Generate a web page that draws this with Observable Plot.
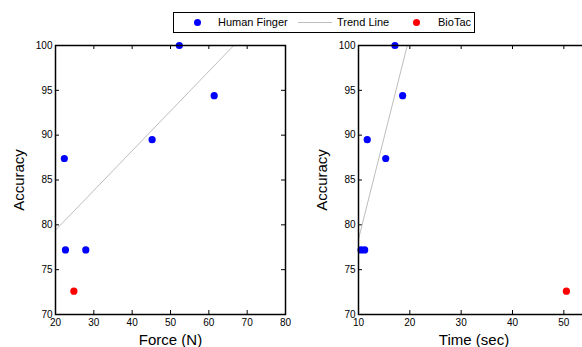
<!DOCTYPE html>
<html>
<head>
<meta charset="utf-8">
<script src="https://cdn.jsdelivr.net/npm/d3@7"></script>
<script src="https://cdn.jsdelivr.net/npm/@observablehq/plot@0.6"></script>
<style>
  html, body { margin: 0; padding: 0; background: white; }
  body { width: 582px; height: 347px; overflow: hidden; position: relative; font-family: "Liberation Sans", Arial, sans-serif; }
  .panel { position: absolute; top: 0; height: 347px; }
  .panel svg { max-width: none !important; display: block; }
  #legend { position: absolute; left: 173px; top: 12px; width: 302px; height: 21px; box-sizing: border-box; border: 1px solid black; background: white; font-size: 11px; color: black; }
  #legend .item { position: absolute; top: 0; height: 19px; line-height: 19px; white-space: nowrap; }
  #legend .dot { position: absolute; top: 6px; width: 7px; height: 7px; border-radius: 50%; }
  #legend .ln { position: absolute; top: 9px; height: 1px; background: #bdbdbd; }
</style>
</head>
<body>
<div id="left" class="panel" style="left:0px; width:290px"></div>
<div id="right" class="panel" style="left:300px; width:300px"></div>
<div id="legend">
  <span class="dot" style="left:20px; background:#0000ff"></span>
  <span class="item" style="left:44px">Human Finger</span>
  <span class="ln" style="left:124px; width:34px"></span>
  <span class="item" style="left:163px">Trend Line</span>
  <span class="dot" style="left:239px; background:#ff0000"></span>
  <span class="item" style="left:264px">BioTac</span>
</div>
<script>
// Human finger data
const fingerForce = [22.3, 22.6, 27.9, 45.2, 52.3, 61.4];
const fingerTime = [15.3, 10.5, 11.2, 11.7, 17.1, 18.6];
const fingerAccuracy = [87.4, 77.2, 77.2, 89.5, 100, 94.4];
// BioTac data
const biotacForce = [24.8];
const biotacTime = [50.5];
const biotacAccuracy = [72.6];
// Trend lines (endpoints)
const forceTrendX = [20, 66.5];
const forceTrendY = [79.4, 100];
const timeTrendX = [10, 19.5];
const timeTrendY = [78.4, 100];
// Ticks
const accuracyTicks = [70, 75, 80, 85, 90, 95, 100];
const forceTicks = [20, 30, 40, 50, 60, 70, 80];
const timeTicks = [10, 20, 30, 40, 50, 60];

const H = 347, MT = 45, MB = 33;
const innerH = H - MT - MB;
const font = "'Liberation Sans', Arial, Helvetica, sans-serif";

function panel({xs, ys, bx, by, tx, ty, xDomain, xTicks, xLabel, width, ml, mr}) {
  const innerW = width - ml - mr;
  const finger = xs.map((x, i) => ({x, y: ys[i]}));
  const bio = bx.map((x, i) => ({x, y: by[i]}));
  const trend = tx.map((x, i) => ({x, y: ty[i]}));
  return Plot.plot({
    width, height: H,
    marginLeft: ml, marginRight: mr, marginTop: MT, marginBottom: MB,
    style: {fontFamily: font, fontSize: "10px", background: "white", color: "black", overflow: "visible", maxWidth: "none"},
    x: {domain: xDomain},
    y: {domain: [70, 100]},
    marks: [
      Plot.axisX(xTicks, {tickSize: 0, tickPadding: 4, label: null, fontSize: 10}),
      Plot.axisY(accuracyTicks, {tickSize: 0, tickPadding: 3, label: null, fontSize: 10}),
      Plot.tickX(xTicks, {x: d => d, insetTop: innerH - 4, stroke: "black"}),
      Plot.tickX(xTicks, {x: d => d, insetBottom: innerH - 4, stroke: "black"}),
      Plot.tickY(accuracyTicks, {y: d => d, insetRight: innerW - 4, stroke: "black"}),
      Plot.tickY(accuracyTicks, {y: d => d, insetLeft: innerW - 4, stroke: "black"}),
      Plot.line(trend, {x: "x", y: "y", stroke: "#bdbdbd", strokeWidth: 1, clip: true}),
      Plot.dot(finger, {x: "x", y: "y", r: 3.6, fill: "#0000ff", stroke: "none"}),
      Plot.dot(bio, {x: "x", y: "y", r: 3.6, fill: "#ff0000", stroke: "none"}),
      Plot.frame({stroke: "black", strokeWidth: 1.5}),
      Plot.text(["Accuracy"], {text: d => d, frameAnchor: "left", rotate: -90, dx: -36, fontSize: 15, textAnchor: "middle", fill: "black"}),
      Plot.text([xLabel], {text: d => d, frameAnchor: "bottom", dy: 26, fontSize: 15, textAnchor: "middle", lineAnchor: "middle", fill: "black"})
    ]
  });
}

document.getElementById("left").append(panel({
  xs: fingerForce, ys: fingerAccuracy, bx: biotacForce, by: biotacAccuracy,
  tx: forceTrendX, ty: forceTrendY, xDomain: [20, 80], xTicks: forceTicks,
  xLabel: "Force (N)", width: 290, ml: 55, mr: 5
}));
document.getElementById("right").append(panel({
  xs: fingerTime, ys: fingerAccuracy, bx: biotacTime, by: biotacAccuracy,
  tx: timeTrendX, ty: timeTrendY, xDomain: [10, 55], xTicks: timeTicks.filter(t => t <= 55),
  xLabel: "Time (sec)", width: 300, ml: 58, mr: 11
}));
</script>
</body>
</html>
